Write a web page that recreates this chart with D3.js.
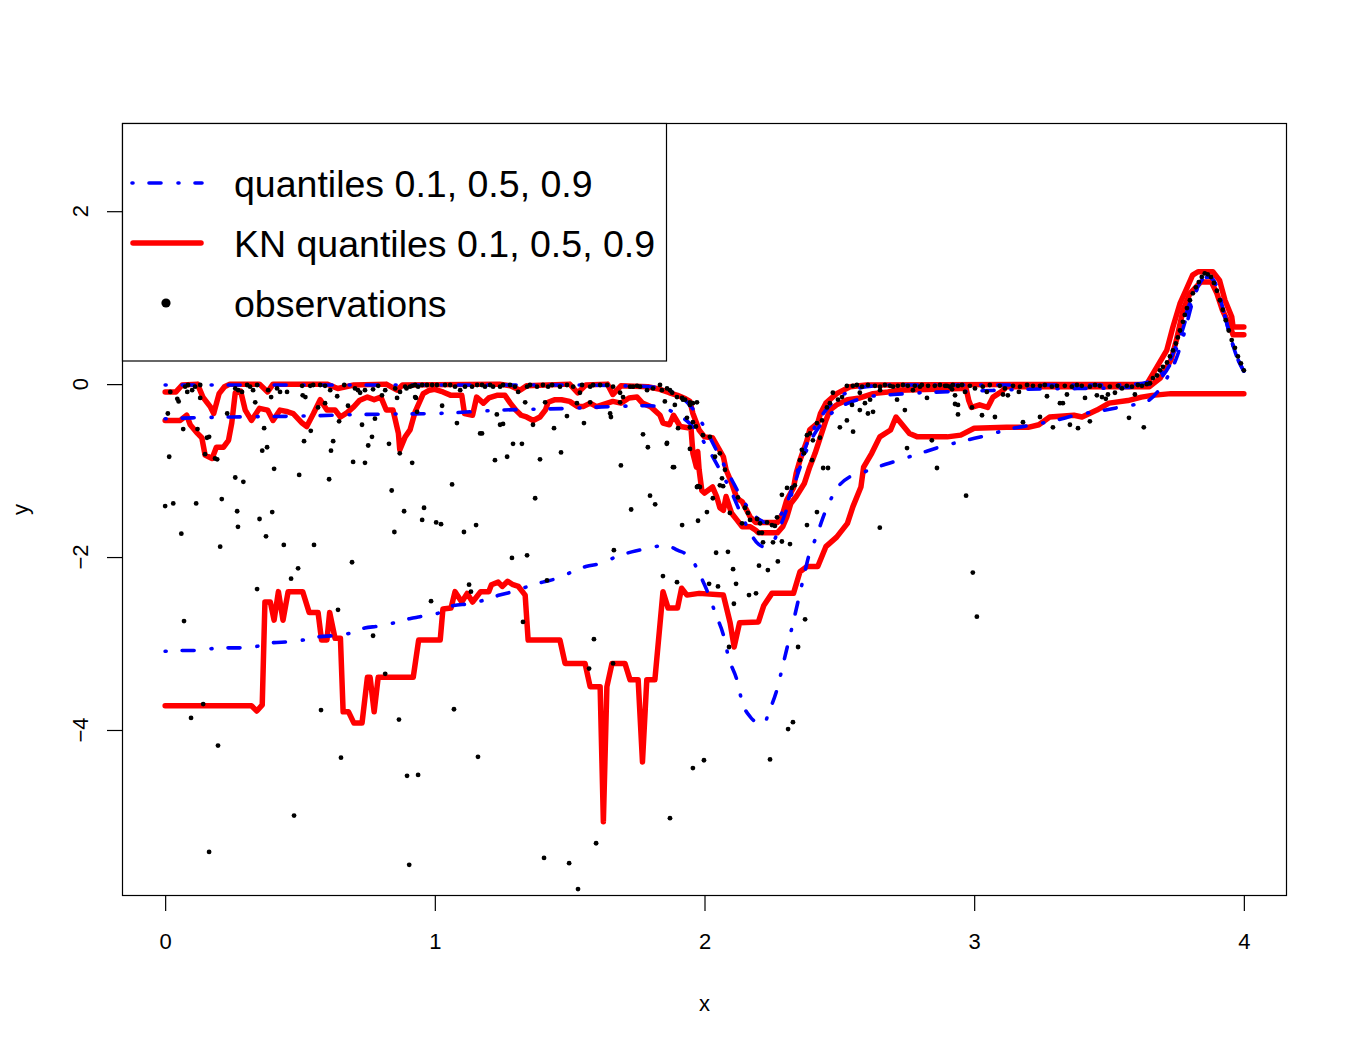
<!DOCTYPE html>
<html><head><meta charset="utf-8">
<script src="https://cdn.jsdelivr.net/npm/d3@7"></script>
<style>body{margin:0;background:#fff}text{font-family:"Liberation Sans",Arial,Helvetica,sans-serif}</style>
</head><body><svg id="chart" width="1350" height="1050"></svg>
<script>
const xTicks=[0,1,2,3,4];
const yTicks=[-4,-2,0,2];
const xLabel="x", yLabel="y";
const legendLabels=["quantiles 0.1, 0.5, 0.9","KN quantiles 0.1, 0.5, 0.9","observations"];

// true quantile curves (blue, dot-dash)
const blueQ90=[[0,-0.01],[0.5,-0.01],[1.0,-0.01],[1.5,-0.01],[1.7,-0.02],[1.8,-0.03],[1.85,-0.06],[1.9,-0.12],[1.95,-0.26],[2.0,-0.5],[2.05,-0.8],[2.1,-1.1],[2.15,-1.38],[2.2,-1.56],[2.23,-1.6],[2.26,-1.57],[2.3,-1.42],[2.33,-1.15],[2.36,-0.85],[2.4,-0.55],[2.45,-0.3],[2.5,-0.15],[2.55,-0.07],[2.6,-0.03],[2.7,-0.01],[3.5,-0.01],[3.6,0.0],[3.65,0.03],[3.7,0.15],[3.73,0.3],[3.76,0.55],[3.79,0.85],[3.82,1.1],[3.85,1.23],[3.87,1.24],[3.9,1.12],[3.92,0.9],[3.95,0.55],[3.97,0.35],[4.0,0.15]];
const blueQ50=[[0,-0.40],[0.1,-0.39],[0.25,-0.38],[0.5,-0.37],[0.75,-0.35],[1.0,-0.34],[1.25,-0.30],[1.5,-0.28],[1.65,-0.26],[1.8,-0.25],[1.85,-0.28],[1.9,-0.35],[1.95,-0.47],[2.0,-0.68],[2.05,-0.95],[2.1,-1.25],[2.15,-1.6],[2.2,-1.85],[2.22,-1.88],[2.25,-1.84],[2.28,-1.65],[2.31,-1.4],[2.35,-1.0],[2.4,-0.62],[2.45,-0.4],[2.5,-0.27],[2.55,-0.2],[2.6,-0.15],[2.7,-0.12],[2.8,-0.1],[3.0,-0.08],[3.2,-0.06],[3.4,-0.05],[3.55,-0.04],[3.6,-0.03],[3.65,0.0],[3.7,0.1],[3.73,0.25],[3.76,0.5],[3.79,0.8],[3.82,1.06],[3.85,1.22],[3.87,1.24],[3.9,1.12],[3.92,0.9],[3.95,0.55],[3.97,0.35],[4.0,0.15]];
const blueQ10=[[0,-3.09],[0.06,-3.08],[0.12,-3.08],[0.17,-3.06],[0.23,-3.05],[0.29,-3.05],[0.345,-3.03],[0.4,-2.99],[0.46,-2.98],[0.51,-2.96],[0.575,-2.92],[0.62,-2.91],[0.686,-2.88],[0.74,-2.82],[0.79,-2.80],[0.85,-2.76],[0.91,-2.71],[0.945,-2.69],[1.02,-2.64],[1.07,-2.56],[1.13,-2.54],[1.18,-2.5],[1.24,-2.44],[1.30,-2.39],[1.345,-2.34],[1.40,-2.29],[1.46,-2.24],[1.51,-2.17],[1.56,-2.11],[1.62,-2.07],[1.67,-2.0],[1.73,-1.94],[1.79,-1.9],[1.84,-1.87],[1.87,-1.88],[1.90,-1.92],[1.95,-2.01],[1.976,-2.16],[2.0,-2.32],[2.02,-2.47],[2.04,-2.65],[2.07,-2.9],[2.09,-3.17],[2.12,-3.42],[2.14,-3.68],[2.17,-3.85],[2.20,-3.92],[2.22,-3.93],[2.24,-3.78],[2.27,-3.52],[2.29,-3.26],[2.31,-3.0],[2.33,-2.74],[2.35,-2.47],[2.37,-2.2],[2.39,-1.95],[2.41,-1.8],[2.45,-1.46],[2.49,-1.21],[2.54,-1.07],[2.58,-1.03],[2.64,-0.96],[2.72,-0.88],[2.80,-0.8],[2.88,-0.72],[2.97,-0.65],[3.05,-0.59],[3.13,-0.52],[3.22,-0.47],[3.3,-0.42],[3.39,-0.35],[3.47,-0.31],[3.55,-0.26],[3.64,-0.2],[3.69,-0.05],[3.72,0.1],[3.75,0.3],[3.78,0.6],[3.81,0.95],[3.84,1.18],[3.87,1.24],[3.9,1.12],[3.92,0.9],[3.95,0.55],[3.97,0.35],[4.0,0.15]];

// KN quantile estimates (red, solid)
const redQ90=[[0,-0.09],[0.04,-0.09],[0.063,-0.01],[0.12,0.0],[0.14,-0.15],[0.167,-0.26],[0.18,-0.34],[0.2,-0.11],[0.22,-0.03],[0.24,0.0],[0.35,0.0],[0.38,-0.09],[0.4,0.0],[0.6,0.0],[0.64,-0.05],[0.7,-0.01],[0.82,0.0],[0.86,-0.07],[0.88,-0.01],[1.24,0.0],[1.28,-0.02],[1.316,-0.07],[1.34,-0.02],[1.5,0.0],[1.53,-0.1],[1.56,-0.01],[1.64,0.0],[1.66,-0.12],[1.69,-0.02],[1.79,-0.03],[1.835,-0.06],[1.87,-0.1],[1.9,-0.13],[1.93,-0.17],[1.946,-0.2],[1.957,-0.34],[1.98,-0.53],[2.0,-0.61],[2.03,-0.62],[2.07,-0.84],[2.08,-0.99],[2.1,-1.14],[2.12,-1.32],[2.14,-1.36],[2.17,-1.54],[2.19,-1.6],[2.27,-1.6],[2.29,-1.5],[2.305,-1.34],[2.33,-1.2],[2.34,-1.03],[2.354,-0.88],[2.38,-0.65],[2.39,-0.53],[2.42,-0.45],[2.43,-0.34],[2.45,-0.22],[2.49,-0.11],[2.54,-0.03],[2.6,-0.01],[3.64,0.0],[3.678,0.2],[3.714,0.39],[3.737,0.66],[3.763,0.93],[3.79,1.12],[3.81,1.26],[3.83,1.3],[3.885,1.3],[3.91,1.2],[3.93,0.97],[3.955,0.78],[3.96,0.66],[4.0,0.66]];
const redQ50=[[0,-0.42],[0.056,-0.42],[0.08,-0.36],[0.093,-0.47],[0.12,-0.57],[0.136,-0.62],[0.148,-0.82],[0.174,-0.86],[0.19,-0.73],[0.216,-0.73],[0.235,-0.65],[0.247,-0.45],[0.26,-0.1],[0.28,-0.08],[0.297,-0.3],[0.32,-0.42],[0.35,-0.28],[0.38,-0.3],[0.4,-0.42],[0.426,-0.3],[0.455,-0.32],[0.475,-0.34],[0.508,-0.45],[0.525,-0.49],[0.55,-0.34],[0.575,-0.18],[0.6,-0.3],[0.63,-0.3],[0.65,-0.38],[0.675,-0.33],[0.7,-0.26],[0.72,-0.19],[0.75,-0.15],[0.775,-0.18],[0.8,-0.15],[0.82,-0.3],[0.845,-0.3],[0.865,-0.57],[0.87,-0.76],[0.89,-0.61],[0.908,-0.53],[0.927,-0.32],[0.957,-0.11],[0.98,-0.07],[1.0,-0.06],[1.03,-0.09],[1.06,-0.13],[1.1,-0.13],[1.11,-0.34],[1.14,-0.36],[1.155,-0.15],[1.18,-0.22],[1.2,-0.16],[1.23,-0.13],[1.26,-0.13],[1.28,-0.22],[1.3,-0.3],[1.32,-0.36],[1.34,-0.38],[1.365,-0.42],[1.39,-0.38],[1.41,-0.3],[1.42,-0.21],[1.446,-0.18],[1.47,-0.18],[1.5,-0.2],[1.53,-0.26],[1.55,-0.26],[1.576,-0.22],[1.6,-0.26],[1.64,-0.22],[1.66,-0.2],[1.69,-0.22],[1.72,-0.16],[1.75,-0.15],[1.77,-0.22],[1.8,-0.26],[1.835,-0.36],[1.846,-0.45],[1.87,-0.47],[1.885,-0.36],[1.91,-0.49],[1.95,-0.51],[1.957,-0.8],[1.97,-0.96],[1.975,-0.78],[1.98,-0.99],[1.99,-1.23],[2.0,-1.26],[2.03,-1.19],[2.045,-1.3],[2.057,-1.43],[2.07,-1.46],[2.08,-1.3],[2.1,-1.49],[2.12,-1.57],[2.14,-1.65],[2.17,-1.65],[2.19,-1.69],[2.2,-1.72],[2.27,-1.72],[2.29,-1.65],[2.305,-1.54],[2.32,-1.38],[2.34,-1.3],[2.37,-1.15],[2.39,-0.96],[2.41,-0.8],[2.43,-0.61],[2.45,-0.42],[2.465,-0.3],[2.49,-0.24],[2.53,-0.18],[2.576,-0.16],[2.625,-0.11],[2.68,-0.09],[2.72,-0.07],[2.95,-0.05],[2.97,-0.05],[2.98,-0.19],[2.99,-0.27],[3.02,-0.24],[3.05,-0.27],[3.07,-0.15],[3.1,-0.09],[3.12,-0.03],[3.65,-0.03],[3.69,0.07],[3.73,0.28],[3.75,0.51],[3.775,0.86],[3.8,1.05],[3.84,1.18],[3.88,1.18],[3.9,1.05],[3.92,0.86],[3.95,0.66],[3.96,0.57],[4.0,0.57]];
const redQ10=[[0,-3.72],[0.32,-3.72],[0.34,-3.78],[0.36,-3.71],[0.37,-2.52],[0.39,-2.52],[0.404,-2.73],[0.42,-2.4],[0.437,-2.73],[0.456,-2.4],[0.51,-2.4],[0.534,-2.64],[0.567,-2.64],[0.58,-2.96],[0.6,-2.96],[0.61,-2.64],[0.63,-2.94],[0.65,-2.94],[0.66,-3.79],[0.68,-3.79],[0.7,-3.92],[0.73,-3.92],[0.75,-3.39],[0.76,-3.39],[0.775,-3.79],[0.79,-3.39],[0.92,-3.39],[0.94,-2.96],[1.02,-2.96],[1.03,-2.6],[1.06,-2.59],[1.075,-2.4],[1.1,-2.52],[1.12,-2.42],[1.14,-2.52],[1.17,-2.4],[1.2,-2.4],[1.21,-2.32],[1.235,-2.29],[1.25,-2.34],[1.27,-2.28],[1.29,-2.32],[1.31,-2.34],[1.335,-2.44],[1.346,-2.96],[1.464,-2.96],[1.483,-3.23],[1.557,-3.23],[1.576,-3.5],[1.613,-3.5],[1.625,-5.06],[1.638,-3.5],[1.657,-3.23],[1.705,-3.23],[1.724,-3.42],[1.754,-3.42],[1.77,-4.37],[1.786,-3.42],[1.816,-3.42],[1.846,-2.4],[1.865,-2.59],[1.9,-2.59],[1.915,-2.36],[1.935,-2.44],[1.98,-2.42],[2.07,-2.44],[2.095,-2.76],[2.11,-3.04],[2.13,-2.76],[2.2,-2.75],[2.22,-2.56],[2.25,-2.42],[2.33,-2.42],[2.354,-2.17],[2.38,-2.11],[2.42,-2.11],[2.45,-1.88],[2.49,-1.77],[2.53,-1.61],[2.55,-1.42],[2.58,-1.19],[2.59,-0.96],[2.62,-0.8],[2.65,-0.61],[2.69,-0.53],[2.71,-0.38],[2.76,-0.57],[2.79,-0.61],[2.9,-0.61],[2.95,-0.59],[3.0,-0.51],[3.12,-0.5],[3.2,-0.5],[3.24,-0.47],[3.28,-0.38],[3.37,-0.36],[3.4,-0.38],[3.455,-0.3],[3.5,-0.22],[3.57,-0.19],[3.62,-0.15],[3.66,-0.13],[3.73,-0.11],[4.0,-0.11]];

// observations [x, y]
const observations=[
[0.00,-1.41],[0.03,-1.38],[0.06,-1.73],[0.015,-0.84],[0.01,-0.34],[0.045,-0.17],[0.05,-0.20],[0.067,-0.52],[0.12,-0.52],[0.115,-1.38],[0.155,-0.62],[0.163,-0.61],[0.148,-0.81],[0.185,-0.86],[0.193,-0.87],[0.13,-0.16],[0.204,-1.88],[0.21,-1.33],[0.26,-1.08],[0.267,-1.47],[0.27,-1.65],[0.29,-1.13],[0.23,-0.34],[0.334,-0.21],[0.35,-1.56],[0.374,-1.76],[0.36,-0.77],[0.378,-0.73],[0.367,-0.51],[0.397,-1.48],[0.404,-0.98],[0.393,-0.15],[0.44,-1.86],[0.497,-1.05],[0.515,-0.66],[0.54,-0.54],[0.51,-0.13],[0.52,-0.15],[0.552,-1.86],[0.608,-1.10],[0.615,-0.77],[0.623,-0.66],[0.593,-0.22],[0.567,-0.27],[0.645,-0.43],[0.697,-0.90],[0.678,-0.25],[0.73,-0.47],[0.741,-0.91],[0.753,-0.71],[0.767,-0.61],[0.778,-0.40],[0.804,-0.13],[0.83,-0.69],[0.84,-1.23],[0.85,-1.71],[0.886,-1.47],[0.87,-0.80],[0.86,-0.16],[0.916,-0.91],[0.93,-0.16],[0.934,-0.32],[0.953,-1.57],[0.96,-1.43],[1.005,-1.60],[1.023,-1.62],[1.108,-1.71],[1.153,-1.63],[1.064,-1.16],[1.027,-0.25],[1.082,-0.45],[1.168,-0.57],[1.175,-0.57],[1.223,-0.88],[1.23,-0.35],[1.242,-0.47],[1.253,-0.46],[1.268,-0.84],[1.29,-0.69],[1.323,-0.69],[1.372,-1.32],[1.39,-0.87],[1.442,-0.51],[1.468,-0.79],[1.553,-0.45],[1.49,-0.37],[1.335,-0.21],[1.364,-0.47],[1.409,-0.21],[1.527,-0.22],[1.576,-0.21],[1.65,-0.34],[1.653,-0.38],[1.69,-0.94],[1.728,-1.45],[1.772,-0.58],[1.79,-0.73],[1.798,-1.29],[1.817,-1.39],[1.86,-0.69],[1.887,-0.96],[1.917,-1.63],[1.976,-1.58],[1.976,-1.18],[1.853,-0.20],[1.89,-0.24],[1.687,-0.21],[1.935,-0.39],[1.972,-0.21],[1.286,-2.01],[1.342,-1.98],[0.07,-2.74],[0.341,-2.37],[0.493,-2.13],[0.467,-2.25],[0.693,-2.06],[0.641,-2.61],[0.141,-3.70],[0.096,-3.86],[0.771,-2.91],[0.816,-3.35],[0.578,-3.77],[0.196,-4.18],[0.652,-4.32],[0.867,-3.88],[0.897,-4.53],[0.938,-4.52],[0.478,-4.99],[0.163,-5.41],[0.905,-5.56],[0.986,-2.51],[1.127,-2.32],[1.134,-2.40],[1.071,-3.76],[1.16,-4.31],[1.327,-2.75],[1.416,-2.27],[1.59,-2.95],[1.572,-3.29],[1.661,-3.23],[1.664,-1.92],[1.846,-2.22],[1.898,-2.29],[1.957,-4.44],[1.872,-5.02],[1.598,-5.31],[1.405,-5.48],[1.498,-5.54],[1.531,-5.84],[2.043,-1.95],[2.087,-1.94],[2.106,-2.14],[2.017,-2.31],[2.05,-2.34],[2.117,-2.31],[2.109,-2.54],[2.165,-2.44],[2.191,-2.42],[2.202,-2.10],[2.235,-2.15],[2.272,-2.05],[2.217,-1.83],[2.254,-1.83],[2.287,-1.82],[2.317,-1.85],[2.373,-2.72],[2.347,-3.04],[2.091,-3.04],[2.328,-3.91],[2.31,-3.99],[2.243,-4.34],[1.998,-4.35],[2.97,-1.29],[2.995,-2.18],[3.01,-2.69],[2.65,-1.66],
[1.861,-0.68],[1.883,-0.96],[1.957,-0.44],[1.946,-0.50],[1.968,-0.49],[1.902,-0.51],[1.994,-0.59],[2.02,-0.61],[1.946,-0.75],[2.039,-0.84],[2.057,-0.80],[2.065,-1.09],[2.076,-0.99],[1.972,-1.19],[1.983,-1.19],[2.031,-1.32],[2.057,-1.17],[2.069,-1.18],[2.124,-1.31],[2.15,-1.43],[2.161,-1.49],[2.009,-1.48],[2.094,-1.49],[2.139,-1.61],[2.169,-1.57],[2.195,-1.56],[2.206,-1.61],[2.232,-1.60],[2.25,-1.63],[2.261,-1.64],[2.269,-1.54],[2.202,-1.72],[2.213,-1.72],[2.287,-1.28],[2.306,-1.20],[2.324,-1.20],[2.335,-1.17],[2.354,-0.88],[2.361,-0.76],[2.369,-0.80],[2.399,-0.88],[2.38,-0.59],[2.391,-0.57],[2.402,-0.65],[2.417,-0.45],[2.436,-0.42],[2.428,-0.62],[2.454,-0.27],[2.465,-0.22],[2.495,-0.18],[2.51,-0.15],[2.476,-0.10],[2.44,-0.97],[2.458,-0.97],[2.38,-1.63],[2.417,-1.48],[2.502,-0.50],[2.528,-0.42],[2.551,-0.55],[2.547,-0.24],[2.576,-0.10],[2.576,-0.30],[2.595,-0.22],[2.606,-0.34],[2.625,-0.32],[2.614,-0.18],[2.651,-0.07],[2.699,-0.03],[2.714,-0.18],[2.743,-0.30],[2.773,-0.07],[2.825,-0.16],[2.799,-0.03],[2.843,-0.65],[2.751,-0.74],[2.862,-0.97],[2.929,-0.13],[2.94,-0.24],[2.921,-0.01],[1.842,-0.07],[1.88,-0.10],[1.92,-0.18],[1.946,-0.24],
[2.929,-0.23],[2.94,-0.35],[3.029,-0.36],[3.077,-0.38],[2.992,-0.27],[3.181,-0.44],[3.244,-0.38],[3.292,-0.50],[3.318,-0.22],[3.329,-0.22],[3.355,-0.47],[3.385,-0.51],[3.411,-0.16],[3.429,-0.43],[3.455,-0.13],[3.474,-0.15],[3.488,-0.17],[3.496,-0.12],[3.522,-0.10],[3.574,-0.39],[3.596,-0.12],[3.629,-0.50],[3.27,-0.14],[3.344,-0.12],[3.107,-0.12],[3.125,-0.13],[3.166,-0.09],[3.003,-0.05],[3.047,-0.09],[2.966,-0.09],[2.918,-0.06],
[3.652,0.01],[3.663,0.07],[3.678,0.10],[3.689,0.16],[3.7,0.20],[3.715,0.25],[3.726,0.32],[3.737,0.39],[3.748,0.47],[3.755,0.54],[3.763,0.62],[3.774,0.72],[3.781,0.80],[3.789,0.88],[3.8,0.97],[3.811,1.05],[3.822,1.12],[3.833,1.18],[3.844,1.24],[3.855,1.28],[3.866,1.27],[3.878,1.24],[3.889,1.17],[3.9,1.08],[3.911,0.97],[3.922,0.86],[3.933,0.74],[3.944,0.62],[3.955,0.51],[3.967,0.42],[3.978,0.32],[3.989,0.24],[4.0,0.16],
[0.019,-0.09],[0.085,-0.01],[0.1,-0.07],[0.111,-0.03],[0.13,-0.01],[0.082,-0.09],[0.074,-0.03],[0.26,-0.05],[0.271,-0.07],[0.285,-0.09],[0.304,-0.01],[0.315,-0.03],[0.326,-0.07],[0.341,-0.01],[0.382,-0.07],[0.415,-0.05],[0.426,-0.09],[0.452,-0.09],[0.508,-0.02],[0.538,-0.02],[0.549,-0.01],[0.575,-0.01],[0.593,-0.02],[0.612,-0.07],[0.638,-0.14],[0.664,-0.01],[0.704,-0.05],[0.715,-0.07],[0.723,-0.10],[0.741,-0.07],[0.771,-0.06],[0.79,-0.02],[0.816,-0.07],[0.853,-0.05],[0.871,-0.09],[0.89,-0.03],[0.916,-0.02],[0.927,-0.15],[0.938,-0.03],
[0.895,-0.05],[0.908,-0.03],[0.927,-0.01],[0.953,-0.01],[0.971,-0.01],[0.99,-0.01],[1.008,-0.01],[1.038,-0.01],[1.057,-0.01],[1.075,-0.03],[1.094,-0.07],[1.112,-0.03],[1.138,-0.03],[1.157,-0.01],[1.175,-0.01],[1.186,-0.03],[1.205,-0.01],[1.216,-0.03],[1.242,-0.03],[1.253,-0.01],[1.279,-0.01],[1.297,-0.03],[1.309,-0.09],[1.342,-0.03],[1.353,-0.01],[1.379,-0.03],[1.401,-0.01],[1.42,-0.03],[1.435,-0.01],[1.464,-0.03],[1.49,-0.01],[1.513,-0.03],[1.538,-0.10],[1.546,-0.01],[1.576,-0.03],[1.587,-0.01],[1.613,-0.01],[1.639,-0.01],[1.661,-0.03],[1.687,-0.10],[1.698,-0.15],[1.724,-0.03],[1.735,-0.03],[1.75,-0.02],[1.761,-0.03],[1.787,-0.07],[1.809,-0.05],[1.835,-0.01],[1.861,-0.05],[1.872,-0.07],[1.898,-0.15],[1.917,-0.16],[1.928,-0.18],[1.946,-0.21],[1.957,-0.22],
[2.528,-0.02],[2.55,-0.02],[2.565,-0.01],[2.584,-0.03],[2.606,-0.01],[2.632,-0.02],[2.651,-0.03],[2.669,-0.01],[2.688,-0.02],[2.717,-0.02],[2.736,-0.01],[2.754,-0.02],[2.78,-0.02],[2.806,-0.01],[2.829,-0.02],[2.854,-0.02],[2.873,-0.01],[2.899,-0.02],[2.94,-0.02],
[2.892,-0.02],[2.91,-0.03],[2.955,-0.01],[2.984,-0.02],[3.032,-0.03],[3.058,-0.01],[3.095,-0.02],[3.114,-0.05],[3.144,-0.02],[3.17,-0.03],[3.196,-0.01],[3.218,-0.02],[3.244,-0.02],[3.262,-0.01],[3.288,-0.03],[3.307,-0.02],[3.336,-0.02],[3.362,-0.03],[3.381,-0.01],[3.399,-0.02],[3.429,-0.03],[3.448,-0.01],[3.466,-0.02],[3.503,-0.03],[3.533,-0.02],[3.548,-0.05],[3.566,-0.02],[3.585,-0.03],[3.607,-0.01],[3.622,-0.02],[3.64,0.00]
];

const svg=d3.select("#chart");
const W=1350,H=1050;
const plot={left:122,top:123,right:1287,bottom:896};
const x=d3.scaleLinear().domain([-0.16,4.16]).range([plot.left,plot.right]);
const y=d3.scaleLinear().domain([-5.92,3.02]).range([plot.bottom,plot.top]);

svg.append("rect").attr("width",W).attr("height",H).attr("fill","#fff");

const clip=svg.append("clipPath").attr("id","clip").append("rect")
  .attr("x",plot.left).attr("y",plot.top).attr("width",plot.right-plot.left).attr("height",plot.bottom-plot.top);
const g=svg.append("g").attr("clip-path","url(#clip)");

const lineLin=d3.line().x(d=>x(d[0])).y(d=>y(d[1]));
const lineSmooth=d3.line().x(d=>x(d[0])).y(d=>y(d[1])).curve(d3.curveMonotoneX);

[redQ10,redQ50,redQ90].forEach(s=>{
  g.append("path").attr("d",lineLin(s)).attr("fill","none").attr("stroke","#FF0000")
   .attr("stroke-width",5.5).attr("stroke-linejoin","round").attr("stroke-linecap","round");
});
[blueQ10,blueQ50,blueQ90].forEach(s=>{
  g.append("path").attr("d",lineSmooth(s)).attr("fill","none").attr("stroke","#0000FF")
   .attr("stroke-width",3.6).attr("stroke-linecap","round").attr("stroke-dasharray","1,16,12,17");
});
g.selectAll("circle.obs").data(observations).enter().append("circle").attr("class","obs")
  .attr("cx",d=>x(d[0])).attr("cy",d=>y(d[1])).attr("r",2.4).attr("fill","#000");

// box
svg.append("rect").attr("x",plot.left+0.5).attr("y",plot.top+0.5)
  .attr("width",plot.right-plot.left-1).attr("height",plot.bottom-plot.top-1)
  .attr("fill","none").attr("stroke","#000").attr("stroke-width",1.2);

// x axis
const xAxis=d3.axisBottom(x).tickValues(xTicks).tickFormat(d3.format("d")).tickSize(15).tickPadding(22);
const xa=svg.append("g").attr("transform",`translate(0,${plot.bottom})`).call(xAxis);
xa.select(".domain").remove();
xa.selectAll("line").attr("stroke-width",1.2);
xa.selectAll("text").attr("font-size",22).attr("font-family","Liberation Sans, Arial, sans-serif").attr("fill","#000");

// y axis
const yAxis=d3.axisLeft(y).tickValues(yTicks).tickSize(15).tickFormat("");
const ya=svg.append("g").attr("transform",`translate(${plot.left},0)`).call(yAxis);
ya.select(".domain").remove();
ya.selectAll("line").attr("stroke-width",1.2);
svg.selectAll("text.ylab").data(yTicks).enter().append("text").attr("class","ylab")
  .attr("transform",d=>`translate(80,${y(d)}) rotate(-90)`)
  .attr("text-anchor","middle").attr("dy","0.36em").attr("font-size",22)
  .text(d=>d<0?"\u2212"+Math.abs(d):String(d));

// axis titles
svg.append("text").attr("x",(x(0)+x(4))/2).attr("y",1003).attr("dy","0.36em")
  .attr("text-anchor","middle").attr("font-size",22).text(xLabel);
svg.append("text").attr("transform",`translate(20,${(plot.top+plot.bottom)/2}) rotate(-90)`)
  .attr("text-anchor","middle").attr("dy","0.36em").attr("font-size",22).text(yLabel);

// legend
const lg=svg.append("g");
lg.append("rect").attr("x",plot.left+0.5).attr("y",plot.top+0.5).attr("width",544).attr("height",237.5)
  .attr("fill","#fff").attr("stroke","#000").attr("stroke-width",1.2);
const rows=[183,243,303];
lg.append("line").attr("x1",132).attr("x2",202).attr("y1",rows[0]).attr("y2",rows[0])
  .attr("stroke","#0000FF").attr("stroke-width",3.6).attr("stroke-linecap","round").attr("stroke-dasharray","1,16,12,17");
lg.append("line").attr("x1",133).attr("x2",201).attr("y1",rows[1]).attr("y2",rows[1])
  .attr("stroke","#FF0000").attr("stroke-width",5.5).attr("stroke-linecap","round");
lg.append("circle").attr("cx",166).attr("cy",rows[2]).attr("r",4.6).attr("fill","#000");
lg.selectAll("text").data(legendLabels).enter().append("text")
  .attr("x",234).attr("y",(d,i)=>rows[i]).attr("dy","0.36em").attr("font-size",37.5).text(d=>d);
</script>
</body></html>
